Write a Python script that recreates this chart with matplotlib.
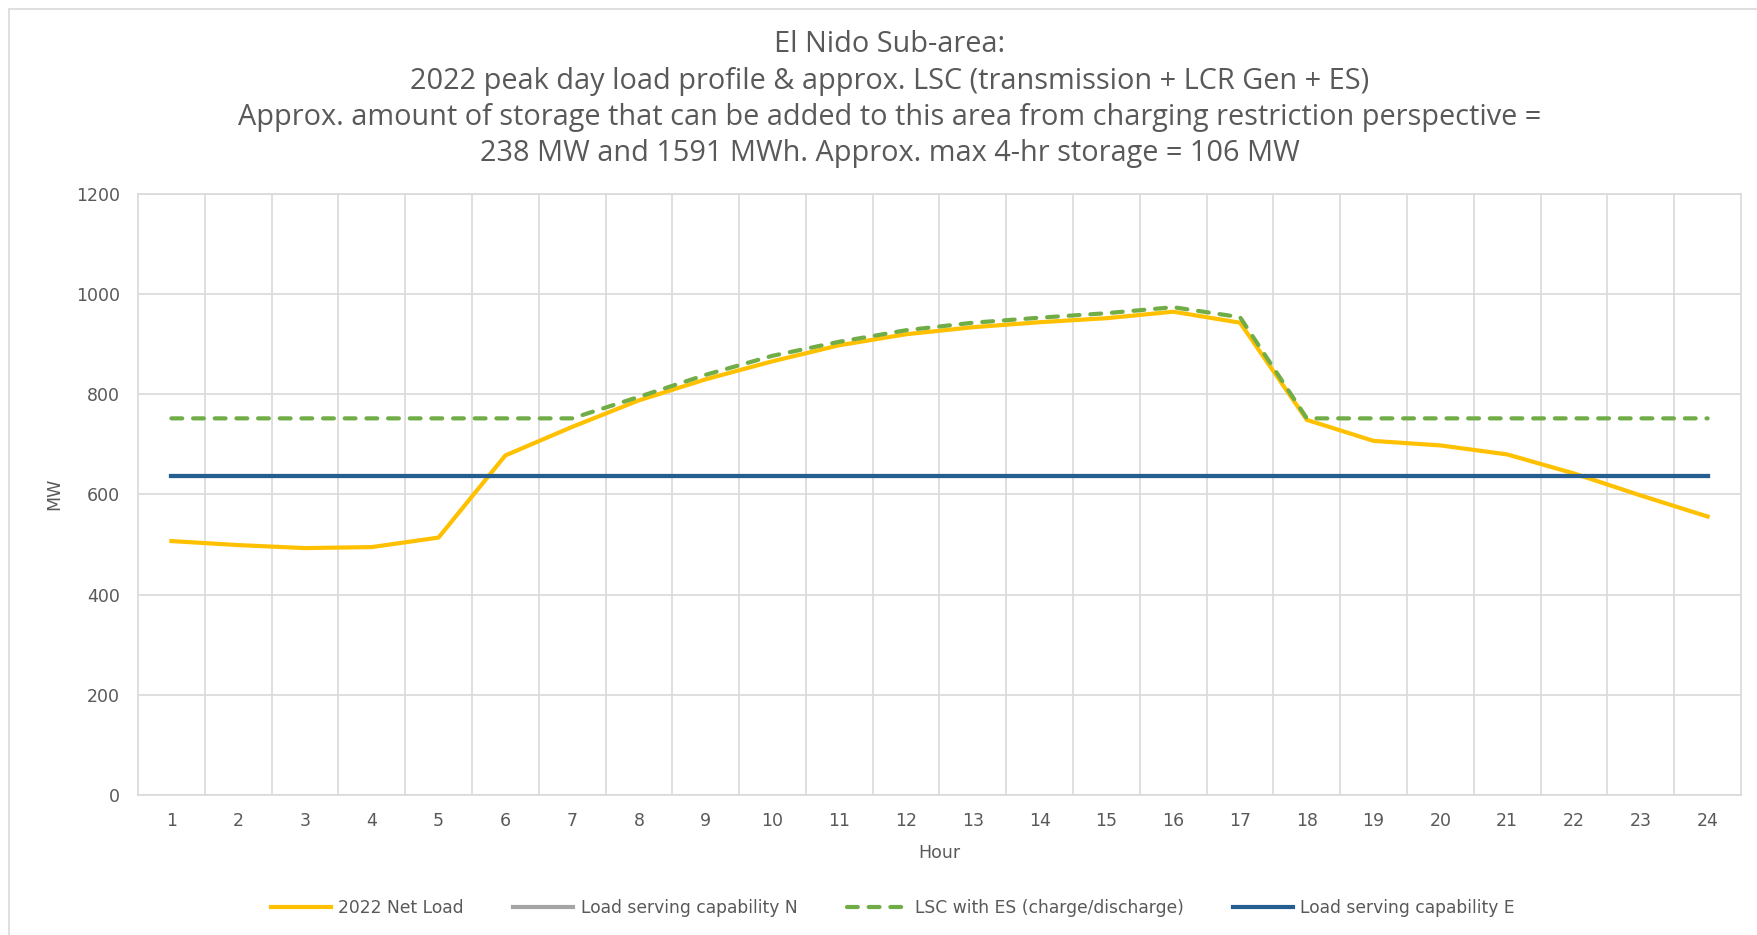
import numpy as np
import matplotlib.pyplot as plt
from matplotlib.patches import Rectangle

#================= Data =================

hours = np.arange(1, 25)

net_load = [507, 499, 493, 495, 514, 678, 735, 788, 830, 866, 898, 920,
            934, 944, 952, 965, 943, 749, 707, 698, 680, 642, 598, 556]

lsc_n = [637, 637, 637, 637, 637, 637, 637, 637, 637, 637, 637, 637,
         637, 637, 637, 637, 637, 637, 637, 637, 637, 637, 637, 637]

lsc_es = [752, 752, 752, 752, 752, 752, 752, 795, 839, 877, 905, 928,
          943, 953, 962, 974, 954, 752, 752, 752, 752, 752, 752, 752]

lsc_e = [637, 637, 637, 637, 637, 637, 637, 637, 637, 637, 637, 637,
         637, 637, 637, 637, 637, 637, 637, 637, 637, 637, 637, 637]

title_lines = ["El Nido Sub-area:",
               "2022 peak day load profile & approx. LSC (transmission + LCR Gen + ES)",
               "Approx. amount of storage that can be added to this area from charging restriction perspective =",
               "238 MW and 1591 MWh. Approx. max 4-hr storage = 106 MW"]

#================= Plot =================

W, H = 1758, 935
text_grey = '#595959'
grid_grey = '#D9D9D9'

fig = plt.figure(figsize=(W / 100, H / 100), dpi=100)
fig.patch.set_facecolor('white')

# chart border
fig.patches.append(Rectangle((9 / W, -0.01), 1.0, 1 - 9 / H + 0.01, transform=fig.transFigure,
                             fill=False, edgecolor=grid_grey, linewidth=1.2))

ax = fig.add_axes([138 / W, 1 - 795 / H, (1741 - 138) / W, (795 - 194) / H])

ax.plot(hours, net_load, color='#FFC000', linewidth=3, label='2022 Net Load', zorder=3)
ax.plot(hours, lsc_n, color='#A5A5A5', linewidth=3, label='Load serving capability N', zorder=2)
ax.plot(hours, lsc_es, color='#70AD47', linewidth=3, linestyle=(0, (2.6, 2.6)),
        dash_capstyle='round', label='LSC with ES (charge/discharge)', zorder=4)
ax.plot(hours, lsc_e, color='#255E91', linewidth=3, label='Load serving capability E', zorder=3)

ax.set_xlim(0.5, 24.5)
ax.set_ylim(0, 1200)
ax.set_xticks(hours)
ax.set_xticks(np.arange(1.5, 24.5, 1), minor=True)
ax.set_yticks(np.arange(0, 1201, 200))

ax.grid(True, which='major', axis='y', color=grid_grey, linewidth=1.2)
ax.grid(True, which='minor', axis='x', color=grid_grey, linewidth=1.2)
ax.set_axisbelow(True)
for s in ax.spines.values():
    s.set_color(grid_grey)
    s.set_linewidth(1.2)

ax.tick_params(which='both', length=0)
ax.tick_params(axis='y', pad=13, labelsize=12.5, labelcolor=text_grey)
ax.tick_params(axis='x', pad=12, labelsize=12.5, labelcolor=text_grey)

fig.text(939 / W, 1 - 853 / H, 'Hour', ha='center', va='center', fontsize=12.5, color=text_grey)
fig.text(54 / W, 1 - 494 / H, 'MW', ha='center', va='center', rotation=90, fontsize=12.5, color=text_grey)

title_y = [45, 81, 117, 153]
for line, ty in zip(title_lines, title_y):
    fig.text(890 / W, 1 - ty / H, line, ha='center', va='center',
             fontsize=20.8, color=text_grey, family='Open Sans')

fig.legend(loc='center', bbox_to_anchor=(893 / W, 1 - 908 / H), ncol=4, frameon=False,
           fontsize=12.3, labelcolor=text_grey, handlelength=3.5, handletextpad=0.45,
           columnspacing=2.9)

fig.savefig('out.png', dpi=100)
